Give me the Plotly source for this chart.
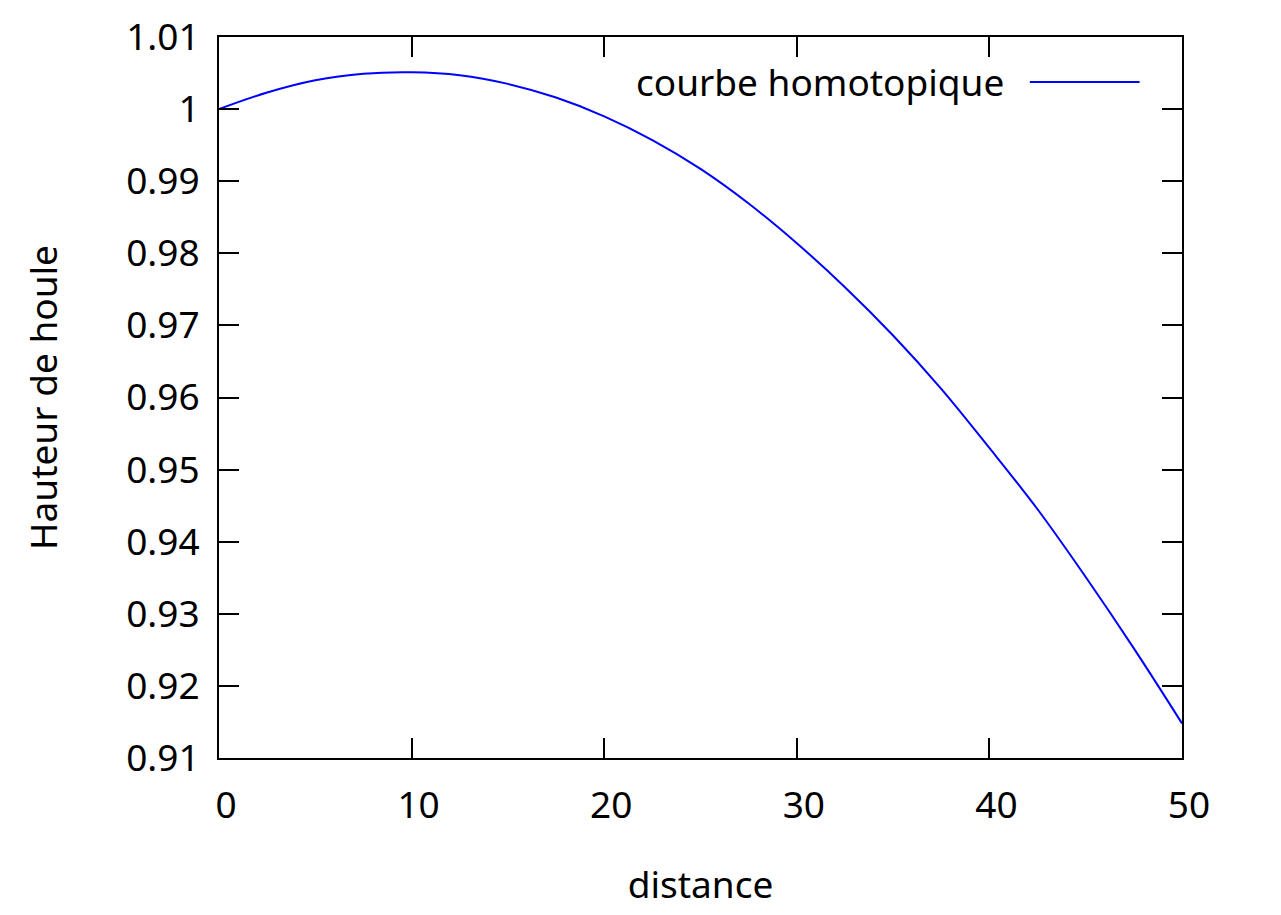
import plotly.graph_objects as go

distance = [0, 2.5, 5, 7.5, 10, 12.5, 15, 17.5, 20, 22.5, 25, 27.5, 30,
            32.5, 35, 37.5, 40, 42.5, 45, 47.5, 50]
hauteur = [1.0000, 1.0023, 1.0040, 1.0049, 1.0051, 1.0047, 1.0035, 1.0016,
           0.9990, 0.9957, 0.9917, 0.9869, 0.9814, 0.9753, 0.9686, 0.9612,
           0.9530, 0.9445, 0.9351, 0.9252, 0.9148]

x_ticks = [0, 10, 20, 30, 40, 50]
y_ticks = [0.91, 0.92, 0.93, 0.94, 0.95, 0.96, 0.97, 0.98, 0.99, 1.0, 1.01]
y_ticklabels = ["0.91", "0.92", "0.93", "0.94", "0.95", "0.96", "0.97",
                "0.98", "0.99", "1", "1.01"]
series_name = "courbe homotopique"

FONT = "Noto Sans"
FS = 37

fig = go.Figure()
fig.add_trace(go.Scatter(x=distance, y=hauteur, mode="lines",
                         line=dict(color="#0000ff", width=2, shape="spline"),
                         name=series_name, showlegend=False))

axis_common = dict(showline=True, linecolor="black", linewidth=2, mirror="ticks",
                   ticks="inside", ticklen=20, tickwidth=2, tickcolor="black",
                   showgrid=False, zeroline=False, automargin=False,
                   tickfont=dict(family=FONT, size=FS, color="black"))

fig.update_xaxes(range=[0, 50], tickvals=x_ticks, ticktext=[str(v) for v in x_ticks],
                 ticklabelstandoff=14, ticklabelshift=7,
                 title=dict(text="distance", font=dict(family=FONT, size=FS, color="black"),
                            standoff=44),
                 **axis_common)
fig.update_yaxes(range=[0.91, 1.01], tickvals=y_ticks, ticktext=y_ticklabels,
                 ticklabelstandoff=10,
                 title=dict(text="Hauteur de houle", font=dict(family=FONT, size=FS, color="black"),
                            standoff=57),
                 **axis_common)

fig.add_annotation(xref="paper", yref="paper", x=0.817, y=0.9376, xanchor="right",
                   yanchor="middle", text=series_name, showarrow=False,
                   font=dict(family=FONT, size=FS, color="black"))
fig.add_shape(type="line", xref="paper", yref="paper", x0=0.842, x1=0.956,
              y0=0.9376, y1=0.9376, line=dict(color="#0000ff", width=2))

fig.update_layout(width=1281, height=915, margin=dict(l=211, r=107, t=29, b=165),
                  plot_bgcolor="white", paper_bgcolor="white",
                  font=dict(family=FONT, size=FS, color="black"))

fig.write_html("out.html")
